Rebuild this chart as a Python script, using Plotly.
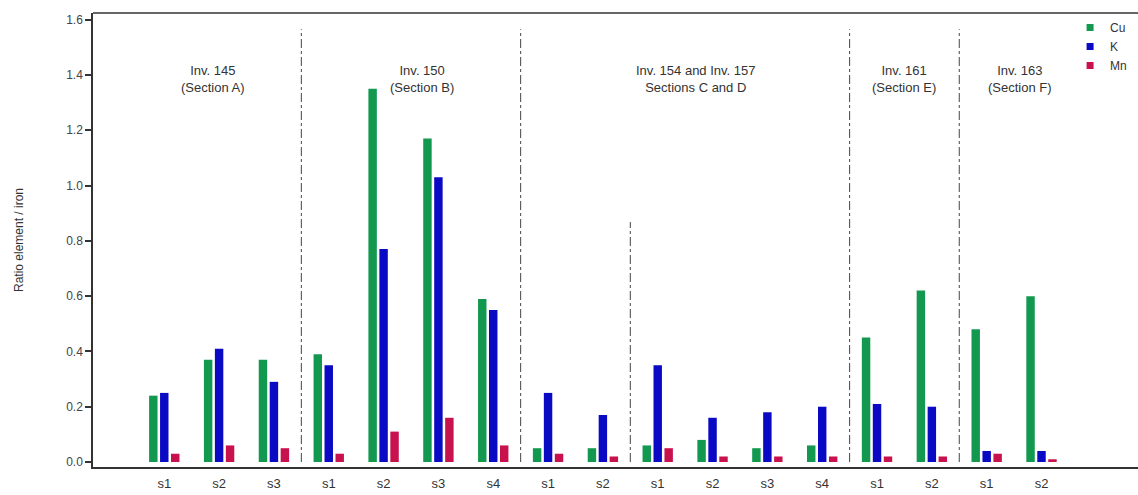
import plotly.graph_objects as go

# ---- data ----
samples = ["s1", "s2", "s3",
           "s1", "s2", "s3", "s4",
           "s1", "s2", "s1", "s2", "s3", "s4",
           "s1", "s2",
           "s1", "s2"]
cu = [0.24, 0.37, 0.37,
      0.39, 1.35, 1.17, 0.59,
      0.05, 0.05, 0.06, 0.08, 0.05, 0.06,
      0.45, 0.62,
      0.48, 0.60]
k = [0.25, 0.41, 0.29,
     0.35, 0.77, 1.03, 0.55,
     0.25, 0.17, 0.35, 0.16, 0.18, 0.20,
     0.21, 0.20,
     0.04, 0.04]
mn = [0.03, 0.06, 0.05,
      0.03, 0.11, 0.16, 0.06,
      0.03, 0.02, 0.05, 0.02, 0.02, 0.02,
      0.02, 0.02,
      0.03, 0.01]
series_names = ["Cu", "K", "Mn"]
colors = ["#13994F", "#0A0AC4", "#C8124E"]

section_labels = ["Inv. 145<br>(Section A)", "Inv. 150<br>(Section B)",
                  "Inv. 154 and Inv. 157<br>Sections C and D",
                  "Inv. 161<br>(Section E)", "Inv. 163<br>(Section F)"]
section_pos = [0.89, 4.7, 9.7, 13.5, 15.6]
divider_pos = [2.5, 6.5, 8.5, 12.5, 14.5]
divider_top = [1.565, 1.565, 0.868, 1.565, 1.565]

x = list(range(len(samples)))
font = "Liberation Sans, Arial, sans-serif"
txt = "#333333"

fig = go.Figure()
for name, vals, c in zip(series_names, [cu, k, mn], colors):
    fig.add_trace(go.Bar(x=x, y=vals, name=name, marker=dict(color=c, line=dict(width=0)),
                         showlegend=False))
for name, c in zip(series_names, colors):
    fig.add_trace(go.Scatter(x=[None], y=[None], mode="markers", name=name,
                             marker=dict(symbol="square", size=7, color=c)))

for xp, top in zip(divider_pos, divider_top):
    fig.add_shape(type="line", xref="x", yref="y", x0=xp, x1=xp, y0=0, y1=top,
                  line=dict(color="#444444", width=1, dash="dashdot"))

for xp, lab in zip(section_pos, section_labels):
    fig.add_annotation(x=xp, y=1.385, xref="x", yref="y", text=lab, showarrow=False,
                       font=dict(family=font, size=13, color=txt), align="center",
                       xanchor="center", yanchor="middle")

fig.update_layout(
    width=1138, height=495,
    margin=dict(l=93, r=0, t=13, b=28),
    paper_bgcolor="white", plot_bgcolor="white",
    barmode="group", bargap=0.4, bargroupgap=0.23,
    font=dict(family=font, size=12, color=txt),
    legend=dict(x=0.935, y=1.0, xanchor="left", yanchor="top",
                font=dict(family=font, size=12, color=txt),
                bgcolor="rgba(0,0,0,0)", tracegroupgap=0, itemwidth=30),
    xaxis=dict(range=[-1.3, 17.76], tickvals=x, ticktext=samples, showgrid=False,
               zeroline=False, showline=True, linecolor="#333333", linewidth=1.5,
               mirror=False, ticks="", tickfont=dict(size=13, color=txt), ticklabelstandoff=4),
    yaxis=dict(range=[-0.018, 1.624], tickvals=[0, 0.2, 0.4, 0.6, 0.8, 1.0, 1.2, 1.4, 1.6],
               tickformat=".1f", showgrid=False, zeroline=False, showline=True,
               linecolor="#333333", linewidth=1.5, ticks="outside", ticklen=6,
               tickcolor="#333333", tickwidth=1.5, tickfont=dict(size=12, color="#444444"),
               title=dict(text="Ratio element / iron", font=dict(size=12, color=txt), standoff=40)),
)
# top frame line
fig.add_shape(type="line", xref="paper", yref="paper", x0=0, x1=1, y0=1, y1=1,
              line=dict(color="#333333", width=1.5))

fig.write_html("out.html", config={"displayModeBar": False},
               post_script="document.body.style.margin='0';document.body.style.overflow='hidden';")
